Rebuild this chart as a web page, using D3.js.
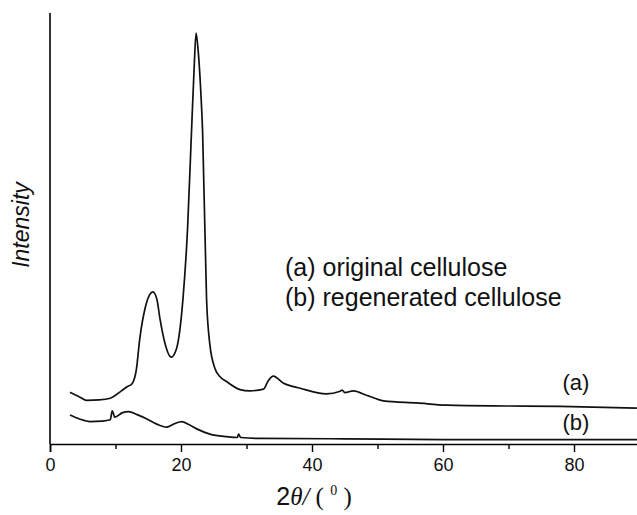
<!DOCTYPE html>
<html>
<head>
<meta charset="utf-8">
<script src="https://cdn.jsdelivr.net/npm/d3@7"></script>
<style>
  body { margin: 0; background: #fff; }
  svg { display: block; }
</style>
</head>
<body>
<div id="chart"></div>
<script>
// 2θ positions and intensities (a.u.)
const thetaA = [3.05, 4.5, 5.6, 7.5, 9.2, 10.9, 11.7, 12.5, 13.2, 13.7, 14.5, 15.2, 15.7, 16.3, 16.8, 17.5, 18.5, 19.3, 20.3, 21.0, 21.6, 22.0, 22.3, 22.6, 23.0, 23.3, 23.9, 24.4, 25.2, 26.0, 27.0, 29.0, 30.5, 32.6, 33.3, 34.1, 35.6, 38.2, 42.2, 44.3, 44.6, 45.0, 46.3, 48.3, 50.9, 56, 60.6, 69.7, 77.9, 89.6];
const intensityA = [120, 109, 101, 102, 106, 123, 132, 139, 174, 243, 313, 345, 352, 336, 289, 236, 201, 220, 336, 498, 722, 868, 951, 914, 822, 722, 336, 231, 174, 155, 144, 126, 123, 127, 146, 157, 141, 129, 116, 122, 125, 119, 123, 113, 100, 95, 90, 88, 87, 83];

const thetaB = [3.05, 4.5, 6.1, 8.0, 9.2, 9.5, 9.9, 11.0, 12.0, 13.3, 14.8, 16.3, 17.8, 19.0, 20.1, 21.2, 22.4, 24.4, 27, 28.6, 28.8, 29.1, 32, 45, 60, 90];
const intensityB = [67, 58, 52, 53, 56, 77, 62, 72, 75, 68, 58, 46, 39, 47, 52, 45, 35, 23, 17, 15, 23, 15, 13, 12, 10, 10];

const majorTicks = [0, 20, 40, 60, 80];
const minorTicks = [10, 30, 50, 70, 90];
const legendLines = ['(a) original cellulose', '(b) regenerated cellulose'];

const width = 637, height = 515;
const margin = { top: 13, left: 50, bottom: 444 };

const svg = d3.select('#chart').append('svg')
  .attr('width', width)
  .attr('height', height)
  .style('font-family', '"Liberation Sans", Arial, sans-serif');

const x = d3.scaleLinear().domain([0, 90]).range([margin.left, margin.left + 90 * 6.55]);
const y = d3.scaleLinear().domain([0, 1000]).range([margin.bottom, margin.bottom - 432]);

// x axis: major ticks with labels, minor ticks without
const xAxis = svg.append('g')
  .attr('transform', `translate(0,${margin.bottom})`)
  .call(d3.axisBottom(x).tickValues(majorTicks).tickSize(8).tickPadding(6).tickFormat(d3.format('d')));
xAxis.select('.domain').attr('stroke-width', 1.6);
xAxis.selectAll('.tick line').attr('stroke-width', 1.4);
xAxis.selectAll('text').style('font-size', '18px').style('font-family', '"Liberation Sans", Arial, sans-serif').attr('fill', '#111');

const xMinor = svg.append('g')
  .attr('transform', `translate(0,${margin.bottom})`)
  .call(d3.axisBottom(x).tickValues(minorTicks).tickSize(5).tickFormat(''));
xMinor.select('.domain').remove();
xMinor.selectAll('.tick line').attr('stroke-width', 1.4);

// y axis: plain line, no ticks
svg.append('line')
  .attr('x1', margin.left).attr('x2', margin.left)
  .attr('y1', margin.top).attr('y2', margin.bottom)
  .attr('stroke', '#000').attr('stroke-width', 1.6);

const line = d3.line()
  .x(d => x(d[0]))
  .y(d => y(d[1]))
  .curve(d3.curveMonotoneX);

svg.append('path')
  .datum(d3.zip(thetaA, intensityA))
  .attr('d', line)
  .attr('fill', 'none')
  .attr('stroke', '#111')
  .attr('stroke-width', 1.7);

svg.append('path')
  .datum(d3.zip(thetaB, intensityB))
  .attr('d', line)
  .attr('fill', 'none')
  .attr('stroke', '#111')
  .attr('stroke-width', 1.7);

// legend text block
svg.append('g').selectAll('text')
  .data(legendLines)
  .join('text')
  .attr('x', 285)
  .attr('y', (d, i) => 276 + i * 30)
  .style('font-size', '25px')
  .attr('fill', '#111')
  .text(d => d);

// curve labels
svg.append('text').attr('x', 576).attr('y', 390).attr('text-anchor', 'middle')
  .style('font-size', '22px').attr('fill', '#111').text('(a)');
svg.append('text').attr('x', 576).attr('y', 430).attr('text-anchor', 'middle')
  .style('font-size', '22px').attr('fill', '#111').text('(b)');

// y axis title
svg.append('text')
  .attr('transform', 'translate(29,225) rotate(-90)')
  .attr('text-anchor', 'middle')
  .style('font-size', '23px')
  .style('font-style', 'italic')
  .attr('fill', '#111')
  .text('Intensity');

// x axis title: 2θ/(°)
const xt = svg.append('text')
  .attr('x', 314)
  .attr('y', 505)
  .attr('text-anchor', 'middle')
  .style('font-family', '"Liberation Serif", "Times New Roman", serif')
  .style('font-size', '25px')
  .attr('fill', '#111');
xt.append('tspan').style('font-family', '"Liberation Sans", Arial, sans-serif').text('2');
xt.append('tspan').style('font-style', 'italic').text('θ');
xt.append('tspan').style('font-style', 'italic').text('/ ');
xt.append('tspan').text('( ');
xt.append('tspan').attr('dy', -10).style('font-size', '14px').text('0');
xt.append('tspan').attr('dy', 10).text(' )');
</script>
</body>
</html>
